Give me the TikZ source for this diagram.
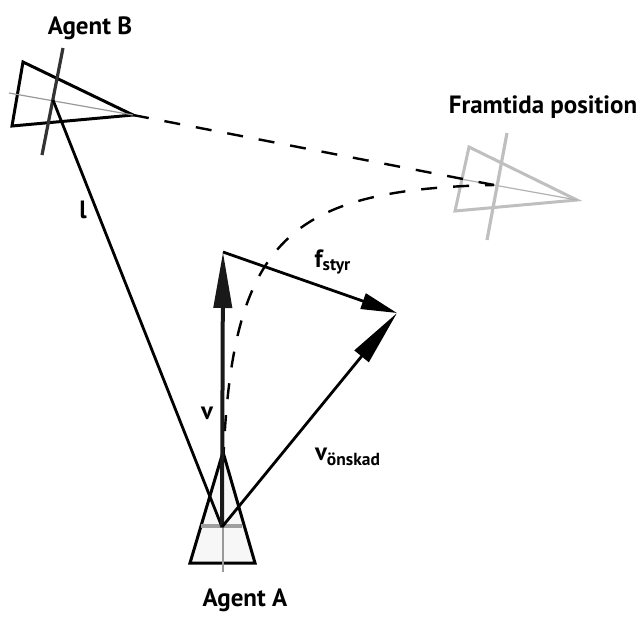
\documentclass[tikz,border=0pt]{standalone}
\usepackage{fontspec}
\setmainfont{PT Sans}
\usetikzlibrary{arrows.meta}

\tikzset{
  agent/.style={line width=1.5pt, draw=black, fill=gray!6},
  ghost/.style={line width=1.5pt, draw=gray!50, fill=white},
  axis/.style={line width=0.6pt, gray!80},
  cross/.style={line width=1.6pt, gray!75},
  track/.style={line width=1.2pt, dash pattern=on 8pt off 8pt},
  vec/.style={line width=1.4pt, -{Triangle[length=28pt,width=9pt]}},
  lbl/.style={font=\fontsize{12.5}{15}\selectfont\bfseries}
}

\begin{document}
\begin{tikzpicture}[x=0.5pt, y=-0.5pt]

	\useasboundingbox (0,0) rectangle (643,617);

	% Key points
	\coordinate (A) at (222,527);
	\coordinate (B) at (53,100);
	\coordinate (Btip) at (133,115);
	\coordinate (F) at (494,185);
	\coordinate (vtip) at (223,252);
	\coordinate (vd) at (397,313);

	% Agent B
	\draw[agent, fill=white] (23,62) -- (12,126) -- (Btip) -- cycle;
	\draw[axis] (9,93) -- (Btip);
	\draw[cross, gray!40!black] (63,48) -- (42,155);

	% Future position
	\draw[ghost] (469,147) -- (455,211) -- (577,200) -- cycle;
	\draw[axis, gray!60] (455,178) -- (577,200);
	\draw[cross, gray!50] (507,133) -- (487,240);

	% Agent A
	\draw[agent] (223,452) -- (190,563) -- (255,563) -- cycle;
	\draw[axis] (223,452) -- (223,572);
	\draw[cross] (201,526) -- (242,526);

	% Predicted paths
	\draw[track] (Btip) -- (F);
	\draw[track] (A) .. controls (223,250) and (268,190) .. (F);

	% Vectors
	\draw[line width=1.4pt] (B) -- (A);
	\draw[vec, gray!20!black, line width=2pt] (A) -- (vtip);
	\draw[vec] (A) -- (vd);
	\draw[line width=1.4pt, -{Triangle[length=18pt,width=8pt]}] (vtip) -- (vd);

	% Labels
	\node[lbl] (nameB) at (90,28) {Agent B};
	\node[lbl] (nameF) at (543,107) {Framtida position};
	\node[lbl] (nameA) at (245,600) {Agent A};
	\node[lbl] (lenl) at (83,210) {l};
	\node[lbl] (velv) at (207,413) {v};
	\node[lbl] (force) at (333,262) {f\textsubscript{styr}};
	\node[lbl] (wish) at (348,457) {v\textsubscript{önskad}};

\end{tikzpicture}
\end{document}
